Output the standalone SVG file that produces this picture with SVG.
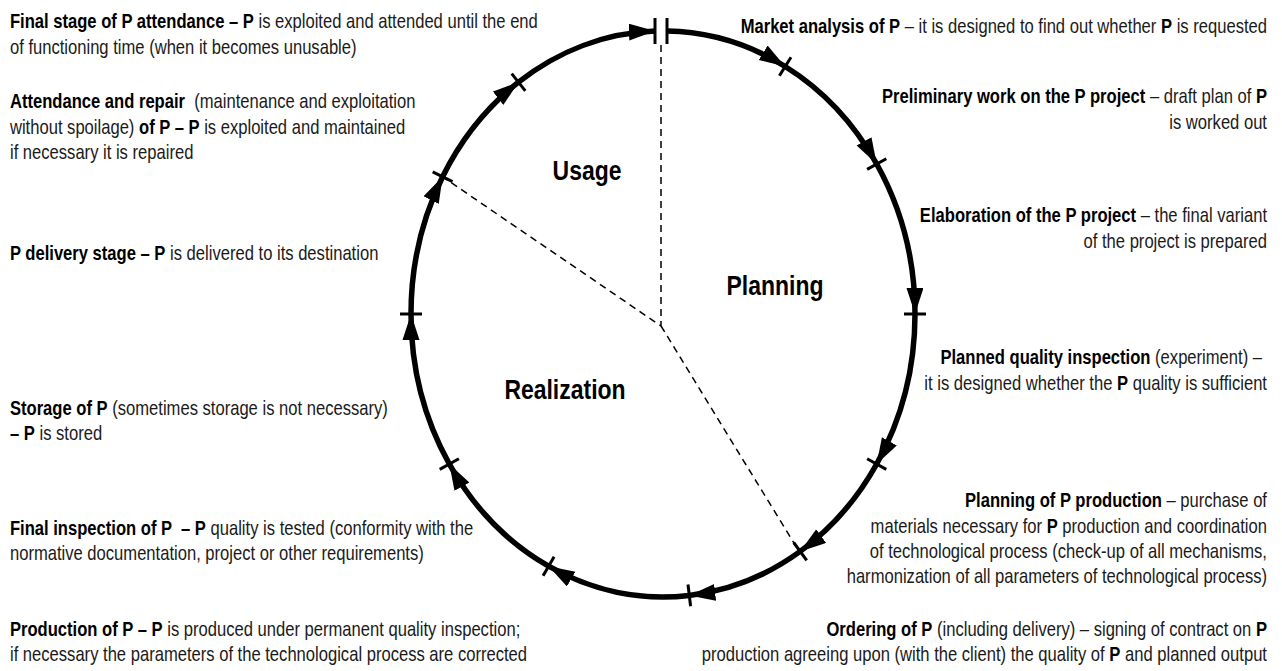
<svg xmlns="http://www.w3.org/2000/svg" width="1282" height="671" viewBox="0 0 1282 671">
<style>
text{font-family:"Liberation Sans",Arial,sans-serif;font-size:20px;fill:#1a1a1a}
.b{font-weight:bold;fill:#000}
.r{text-anchor:end}
.big{font-size:28px;font-weight:bold;fill:#000;text-anchor:middle}
.arc{fill:none;stroke:#000;stroke-width:5.5;marker-end:url(#ah)}
.tick{stroke:#000;stroke-width:3;stroke-linecap:butt}
.dash{stroke:#000;stroke-width:1.5;stroke-dasharray:7 5;fill:none}
</style>
<defs>
<marker id="ah" markerUnits="userSpaceOnUse" markerWidth="28" markerHeight="20" refX="26" refY="8.5" orient="auto">
<path d="M0,0 L26,8.5 L0,17 Z" fill="#000"/>
</marker>
</defs>
<rect width="1282" height="671" fill="#fff"/>

<g id="connectors">
<path class="arc" d="M667,31.1 A252,283 0 0 1 785.2,66.5"/>
<path class="arc" d="M785.2,66.5 A252,283 0 0 1 876.7,164"/>
<path class="arc" d="M876.7,164 A252,283 0 0 1 915,314"/>
<path class="arc" d="M915,314 A252,283 0 0 1 876.7,464"/>
<path class="arc" d="M876.7,464 A252,283 0 0 1 800.2,551.4"/>
<path class="arc" d="M800.2,551.4 A252,283 0 0 1 689.3,595.4"/>
<path class="arc" d="M689.3,595.4 A252,283 0 0 1 548.6,566.2"/>
<path class="arc" d="M548.6,566.2 A252,283 0 0 1 449.3,464"/>
<path class="arc" d="M449.3,464 A252,283 0 0 1 411,314"/>
<path class="arc" d="M411,314 A252,283 0 0 1 442.6,176.8"/>
<path class="arc" d="M442.6,176.8 A252,283 0 0 1 518.5,82.2"/>
<path class="arc" d="M518.5,82.2 A252,283 0 0 1 655,31.1"/>
<line class="tick" x1="655" y1="18" x2="655" y2="44"/>
<line class="tick" x1="667" y1="18" x2="667" y2="44"/>
<line class="tick" x1="791" y1="57.2" x2="779.4" y2="75.8"/>
<line class="tick" x1="886.3" y1="158.7" x2="867.1" y2="169.4"/>
<line class="tick" x1="926" y1="314" x2="904" y2="314"/>
<line class="tick" x1="886.3" y1="469.4" x2="867.1" y2="458.7"/>
<line class="tick" x1="806.7" y1="560.3" x2="793.7" y2="542.5"/>
<line class="tick" x1="690.6" y1="606.3" x2="688" y2="584.5"/>
<line class="tick" x1="543.1" y1="575.8" x2="554.1" y2="556.7"/>
<line class="tick" x1="439.7" y1="469.4" x2="458.9" y2="458.7"/>
<line class="tick" x1="400" y1="314" x2="422" y2="314"/>
<line class="tick" x1="432.7" y1="171.9" x2="452.5" y2="181.7"/>
<line class="tick" x1="511.7" y1="73.6" x2="525.3" y2="90.9"/>
<path class="dash" d="M661,45 L661,326 L442.6,176.8 M661,326 L797,548"/>
</g>

<g id="sector-usage" transform="scale(0.82 1)"><text class="big" x="715.9" y="180">Usage</text></g>
<g id="sector-planning" transform="scale(0.82 1)"><text class="big" x="945.1" y="295">Planning</text></g>
<g id="sector-realization" transform="scale(0.82 1)"><text class="big" x="689" y="399">Realization</text></g>

<g id="final-stage" transform="scale(0.83 1)">
<text x="12" y="28"><tspan class="b">Final stage of P attendance – P</tspan> is exploited and attended until the end</text>
<text x="12" y="54">of functioning time (when it becomes unusable)</text>
</g>
<g id="attendance-repair" transform="scale(0.83 1)">
<text x="12" y="108" xml:space="preserve"><tspan class="b">Attendance and repair</tspan>  (maintenance and exploitation</text>
<text x="12" y="134">without spoilage)<tspan class="b"> of P – P</tspan> is exploited and maintained</text>
<text x="12" y="159">if necessary it is repaired</text>
</g>
<g id="delivery" transform="scale(0.83 1)">
<text x="12" y="260"><tspan class="b">P delivery stage – P</tspan> is delivered to its destination</text>
</g>
<g id="storage" transform="scale(0.83 1)">
<text x="12" y="415"><tspan class="b">Storage of P</tspan> (sometimes storage is not necessary)</text>
<text x="12" y="440"><tspan class="b">– P</tspan> is stored</text>
</g>
<g id="final-inspection" transform="scale(0.83 1)">
<text x="12" y="535" xml:space="preserve"><tspan class="b">Final inspection of P  – P</tspan> quality is tested (conformity with the</text>
<text x="12" y="560">normative documentation, project or other requirements)</text>
</g>
<g id="production" transform="scale(0.83 1)">
<text x="12" y="636"><tspan class="b">Production of P – P</tspan> is produced under permanent quality inspection;</text>
<text x="12" y="661">if necessary the parameters of the technological process are corrected</text>
</g>

<g id="market-analysis" transform="scale(0.83 1)">
<text class="r" x="1526.5" y="33"><tspan class="b">Market analysis of P</tspan> – it is designed to find out whether <tspan class="b">P</tspan> is requested</text>
</g>
<g id="preliminary-work" transform="scale(0.83 1)">
<text class="r" x="1526.5" y="103"><tspan class="b">Preliminary work on the P project</tspan> – draft plan of <tspan class="b">P</tspan></text>
<text class="r" x="1526.5" y="129">is worked out</text>
</g>
<g id="elaboration" transform="scale(0.83 1)">
<text class="r" x="1526.5" y="222"><tspan class="b">Elaboration of the P project</tspan> – the final variant</text>
<text class="r" x="1526.5" y="248">of the project is prepared</text>
</g>
<g id="planned-inspection" transform="scale(0.83 1)">
<text class="r" x="1520.5" y="364"><tspan class="b">Planned quality inspection</tspan> (experiment) –</text>
<text class="r" x="1526.5" y="390">it is designed whether the <tspan class="b">P</tspan> quality is sufficient</text>
</g>
<g id="planning-production" transform="scale(0.83 1)">
<text class="r" x="1526.5" y="507"><tspan class="b">Planning of P production</tspan> – purchase of</text>
<text class="r" x="1526.5" y="533">materials necessary for <tspan class="b">P</tspan> production and coordination</text>
<text class="r" x="1526.5" y="558">of technological process (check-up of all mechanisms,</text>
<text class="r" x="1526.5" y="583">harmonization of all parameters of technological process)</text>
</g>
<g id="ordering" transform="scale(0.83 1)">
<text class="r" x="1526.5" y="636"><tspan class="b">Ordering of P</tspan> (including delivery) – signing of contract on <tspan class="b">P</tspan></text>
<text class="r" x="1526.5" y="661">production agreeing upon (with the client) the quality of <tspan class="b">P</tspan> and planned output</text>
</g>
</svg>
